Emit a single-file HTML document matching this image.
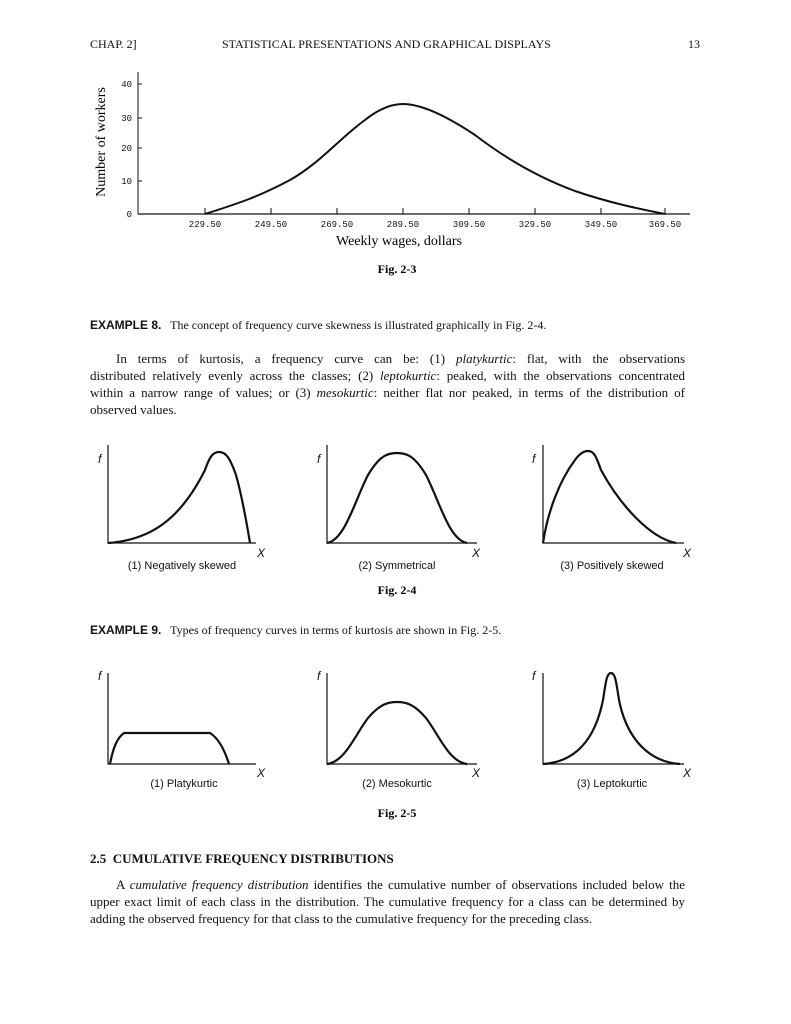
<!DOCTYPE html><html><head><style>
body{margin:0;width:791px;height:1024px;background:#fff;position:relative;font-family:"Liberation Serif",serif;color:#111}
.l{position:absolute;left:90px;width:595px;font-size:13px;white-space:nowrap;text-align:justify;text-align-last:justify}
.t{position:absolute;font-size:13px;white-space:nowrap}
.s{font-family:"Liberation Sans",sans-serif;font-weight:bold;font-size:12px}
svg{position:absolute;left:0;top:0}
</style></head><body>
<div class="t" style="left:90px;top:37px;font-size:12px">CHAP. 2]</div>
<div class="t" style="left:222px;top:37px;font-size:12px">STATISTICAL PRESENTATIONS AND GRAPHICAL DISPLAYS</div>
<div class="t" style="left:688px;top:37px;font-size:12px">13</div>
<svg width="791" height="1024" font-family="Liberation Serif, serif">
<g stroke="#111" fill="none">
<line x1="138" y1="72" x2="138" y2="214" stroke-width="1"/>
<line x1="138" y1="214" x2="690" y2="214" stroke-width="1.2"/>
<g stroke-width="1"><line x1="138" y1="84" x2="142" y2="84"/><line x1="138" y1="118" x2="142" y2="118"/><line x1="138" y1="148" x2="142" y2="148"/><line x1="138" y1="181" x2="142" y2="181"/>
<line x1="205" y1="208" x2="205" y2="214"/><line x1="271" y1="208" x2="271" y2="214"/><line x1="337" y1="208" x2="337" y2="214"/><line x1="403" y1="208" x2="403" y2="214"/><line x1="469" y1="208" x2="469" y2="214"/><line x1="535" y1="208" x2="535" y2="214"/><line x1="601" y1="208" x2="601" y2="214"/><line x1="665" y1="208" x2="665" y2="214"/></g>
<path stroke-width="2" d="M205,214 C240,203 260,196 290,180 C320,163 340,138 365,120 C380,108 392,104 403,104 C420,104 445,115 475,135 C505,158 540,178 575,191 C610,203 640,209 665,214"/>
</g>
<g font-size="9" fill="#111" font-family="Liberation Mono, monospace">
<text x="132" y="87" text-anchor="end">40</text><text x="132" y="121" text-anchor="end">30</text><text x="132" y="151" text-anchor="end">20</text><text x="132" y="184" text-anchor="end">10</text><text x="132" y="217" text-anchor="end">0</text>
<text x="205" y="227" text-anchor="middle">229.50</text><text x="271" y="227" text-anchor="middle">249.50</text><text x="337" y="227" text-anchor="middle">269.50</text><text x="403" y="227" text-anchor="middle">289.50</text><text x="469" y="227" text-anchor="middle">309.50</text><text x="535" y="227" text-anchor="middle">329.50</text><text x="601" y="227" text-anchor="middle">349.50</text><text x="665" y="227" text-anchor="middle">369.50</text>
</g>
<text x="0" y="0" font-size="14" transform="translate(105,142) rotate(-90)" text-anchor="middle">Number of workers</text>
<text x="399" y="245" font-size="14" text-anchor="middle">Weekly wages, dollars</text>
<text x="397" y="273" font-size="12" font-weight="bold" text-anchor="middle">Fig. 2-3</text>

<g stroke="#111" fill="none" stroke-width="1.2">
<path d="M108,445 V543 H256"/><path d="M327,445 V543 H477"/><path d="M543,445 V543 H684"/>
<path stroke-width="2.2" d="M108,543 C150,540 180,520 205,470 C210,455 214,452 219,452 C226,452 230,458 236,475 C243,500 247,525 250,543"/>
<path stroke-width="2.2" d="M327,543 C345,540 355,500 368,475 C380,455 388,453 397,453 C406,453 414,455 426,475 C439,500 449,540 467,543"/>
<path stroke-width="2.2" d="M543,543 C548,510 560,480 575,460 C580,453 584,451 588,451 C594,451 596,456 601,470 C620,505 650,538 676,543"/>
<path d="M108,673 V764 H256"/><path d="M327,673 V764 H477"/><path d="M543,673 V764 H684"/>
<path stroke-width="2.2" d="M110,764 C113,748 117,738 124,733 H210 C218,738 224,748 229,764"/>
<path stroke-width="2.2" d="M327,764 C345,762 355,735 368,718 C380,704 388,702 397,702 C406,702 414,704 426,718 C439,735 449,762 467,764"/>
<path stroke-width="2.2" d="M543,764 C575,762 595,740 603,700 C606,680 607,673 611,673 C615,673 616,680 619,700 C627,740 650,762 680,764"/>
</g>
<g font-size="12" font-style="italic" font-family="Liberation Sans, sans-serif" fill="#111">
<text x="98" y="463">f</text><text x="317" y="463">f</text><text x="532" y="463">f</text>
<text x="257" y="557">X</text><text x="472" y="557">X</text><text x="683" y="557">X</text>
<text x="98" y="680">f</text><text x="317" y="680">f</text><text x="532" y="680">f</text>
<text x="257" y="777">X</text><text x="472" y="777">X</text><text x="683" y="777">X</text>
</g>
<g font-size="11" font-family="Liberation Sans, sans-serif" fill="#111" text-anchor="middle">
<text x="182" y="569">(1) Negatively skewed</text><text x="397" y="569">(2) Symmetrical</text><text x="612" y="569">(3) Positively skewed</text>
<text x="184" y="787">(1) Platykurtic</text><text x="397" y="787">(2) Mesokurtic</text><text x="612" y="787">(3) Leptokurtic</text>
</g>
<text x="397" y="594" font-size="12" font-weight="bold" text-anchor="middle">Fig. 2-4</text>
<text x="397" y="817" font-size="12" font-weight="bold" text-anchor="middle">Fig. 2-5</text>
</svg>
<div class="t" style="left:90px;top:318px;font-size:12px"><span class="s">EXAMPLE 8.</span>&nbsp;&nbsp; The concept of frequency curve skewness is illustrated graphically in Fig. 2-4.</div>
<div class="l" style="top:351px;left:116px;width:569px">In terms of kurtosis, a frequency curve can be: (1) <i>platykurtic</i>: flat, with the observations</div>
<div class="l" style="top:368px">distributed relatively evenly across the classes; (2) <i>leptokurtic</i>: peaked, with the observations concentrated</div>
<div class="l" style="top:385px">within a narrow range of values; or (3) <i>mesokurtic</i>: neither flat nor peaked, in terms of the distribution of</div>
<div class="t" style="left:90px;top:402px">observed values.</div>
<div class="t" style="left:90px;top:623px;font-size:12px"><span class="s">EXAMPLE 9.</span>&nbsp;&nbsp; Types of frequency curves in terms of kurtosis are shown in Fig. 2-5.</div>
<div class="t" style="left:90px;top:851px;font-weight:bold;font-size:13px">2.5&nbsp;&nbsp;CUMULATIVE FREQUENCY DISTRIBUTIONS</div>
<div class="l" style="top:877px;left:116px;width:569px">A <i>cumulative frequency distribution</i> identifies the cumulative number of observations included below the</div>
<div class="l" style="top:894px">upper exact limit of each class in the distribution. The cumulative frequency for a class can be determined by</div>
<div class="t" style="left:90px;top:911px">adding the observed frequency for that class to the cumulative frequency for the preceding class.</div>
</body></html>
